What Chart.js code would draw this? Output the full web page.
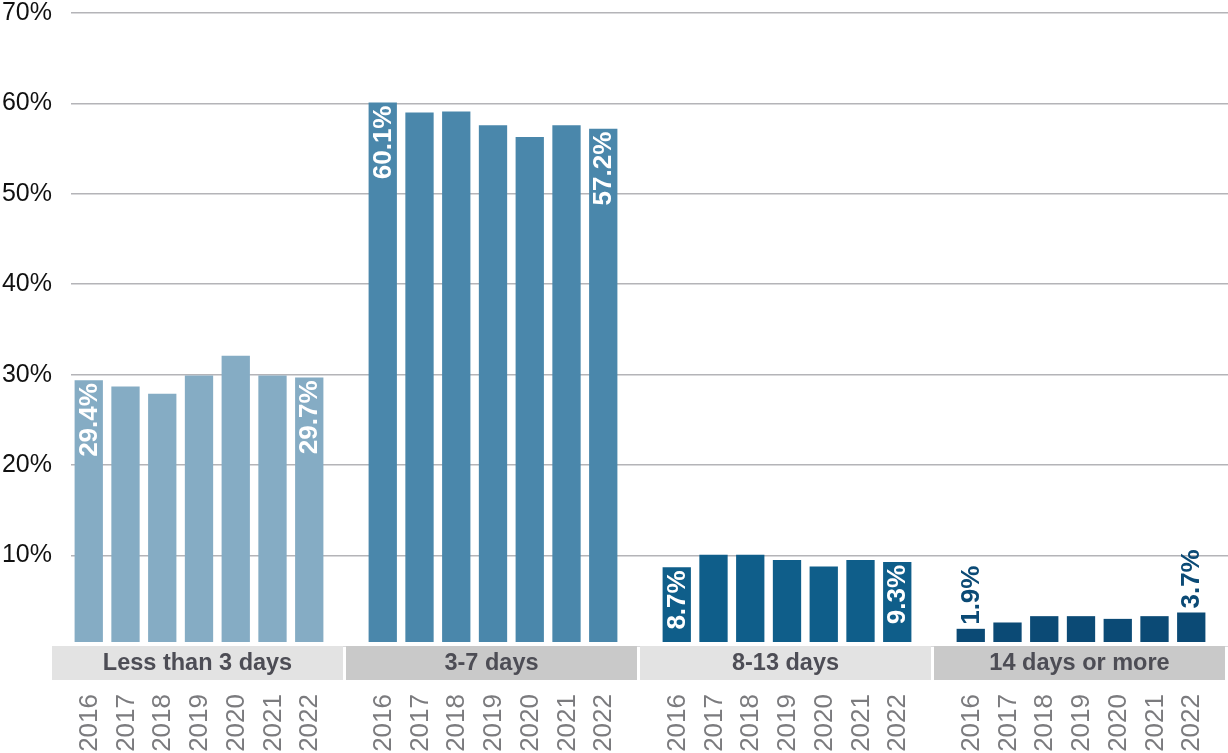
<!DOCTYPE html>
<html>
<head>
<meta charset="utf-8">
<script src="https://cdn.jsdelivr.net/npm/chart.js@4"></script>
<style>
  body { margin: 0; background: #fff; }
  #wrap { width: 1228px; height: 753px; }
</style>
</head>
<body>
<div id="wrap"><canvas id="myChart"></canvas></div>
<script>
const groups = ["Less than 3 days", "3-7 days", "8-13 days", "14 days or more"];
const years = ["2016", "2017", "2018", "2019", "2020", "2021", "2022"];
const lessThan3 = [29.4, 28.7, 27.9, 29.9, 32.1, 29.9, 29.7];
const days3to7 = [60.1, 59.0, 59.1, 57.6, 56.3, 57.6, 57.2];
const days8to13 = [8.7, 10.1, 10.1, 9.5, 8.8, 9.5, 9.3];
const days14plus = [1.9, 2.6, 3.3, 3.3, 3.0, 3.3, 3.7];
const yTicks = [10, 20, 30, 40, 50, 60, 70];

const seriesValues = [lessThan3, days3to7, days8to13, days14plus];
const colors = ["#85ACC4", "#4A87AB", "#0F5E8A", "#0B4A75"];
const bandColors = ["#E3E3E3", "#C9C9C9"];
const FONT = "'Liberation Sans', Arial, sans-serif";

// each group takes 8 slots: half gap, 7 bars, half gap
const slot = (g, i) => g * 8 + 1 + i;

const datasets = seriesValues.map((vals, g) => ({
  label: groups[g],
  data: vals.map((v, i) => ({ x: slot(g, i), y: v })),
  backgroundColor: colors[g],
  barPercentage: 0.77,
  categoryPercentage: 1,
  grouped: false,
}));

// group bands and year labels under the plot
const groupAxis = {
  id: "groupAxis",
  afterDatasetsDraw(chart) {
    const { ctx, chartArea, scales } = chart;
    const x = scales.x;
    const bottom = chartArea.bottom;
    ctx.save();
    ctx.fillStyle = "#fff";
    ctx.fillRect(0, bottom - 4, chart.width, 4);
    groups.forEach((name, g) => {
      const left = x.getPixelForValue(g * 8);
      const right = x.getPixelForValue(g * 8 + 8) - 3;
      ctx.fillStyle = bandColors[g % 2];
      ctx.fillRect(left, bottom, right - left, 34);
      ctx.fillStyle = "#4D4D55";
      ctx.font = "bold 23.5px " + FONT;
      ctx.textAlign = "center";
      ctx.textBaseline = "middle";
      ctx.fillText(name, (left + right) / 2, bottom + 18);

      ctx.fillStyle = "#7B7B7E";
      ctx.font = "26px " + FONT;
      ctx.textAlign = "right";
      years.forEach((yr, i) => {
        ctx.save();
        ctx.translate(x.getPixelForValue(slot(g, i)), bottom + 48);
        ctx.rotate(-Math.PI / 2);
        ctx.fillText(yr, 0, 1);
        ctx.restore();
      });
    });
    ctx.restore();
  },
};

const endLabels = {
  id: "endLabels",
  afterDatasetsDraw(chart) {
    const { ctx } = chart;
    ctx.save();
    ctx.font = "bold 26px " + FONT;
    ctx.textBaseline = "middle";
    seriesValues.forEach((vals, g) => {
      const meta = chart.getDatasetMeta(g);
      [0, vals.length - 1].forEach((i) => {
        const bar = meta.data[i];
        const text = vals[i].toFixed(1) + "%";
        ctx.save();
        ctx.translate(bar.x, bar.y);
        ctx.rotate(-Math.PI / 2);
        if (vals[i] > 5) {
          ctx.fillStyle = "#fff";
          ctx.textAlign = "right";
          ctx.fillText(text, -3, 1);
        } else {
          ctx.fillStyle = colors[g];
          ctx.textAlign = "left";
          ctx.fillText(text, 4, 1);
        }
        ctx.restore();
      });
    });
    ctx.restore();
  },
};

new Chart(document.getElementById("myChart"), {
  type: "bar",
  data: { datasets },
  options: {
    responsive: true,
    maintainAspectRatio: false,
    animation: false,
    layout: { padding: { top: 13, left: 0, right: 0, bottom: 0 } },
    plugins: { legend: { display: false }, tooltip: { enabled: false } },
    scales: {
      x: {
        type: "linear",
        bounds: "data",
        offset: false,
        min: 19 / 36.75,
        max: 32,
        grid: { display: false },
        border: { display: false },
        ticks: { display: false },
        afterFit(scale) {
          scale.height = 107;
        },
      },
      y: {
        min: 0,
        max: 70,
        afterBuildTicks(scale) {
          scale.ticks = [0].concat(yTicks).map((v) => ({ value: v }));
        },
        afterFit(scale) {
          scale.width = 71;
          scale.paddingTop = 0;
          scale.paddingBottom = 0;
        },
        grid: { color: "#B4B4B8", lineWidth: 1.6, drawTicks: false },
        border: { display: false },
        ticks: {
          padding: 19,
          color: "#111",
          font: { family: FONT, size: 25 },
          callback: (v) => (v === 0 ? "" : v + "%"),
        },
      },
    },
  },
  plugins: [groupAxis, endLabels],
});
</script>
</body>
</html>
